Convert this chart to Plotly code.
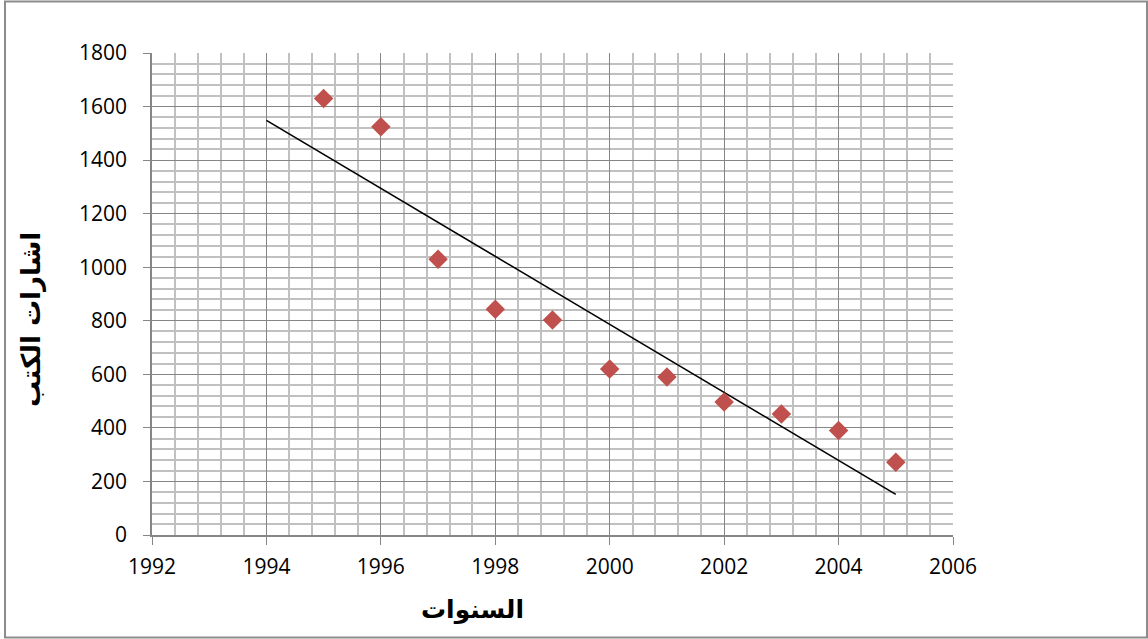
import numpy as np
import plotly.graph_objects as go

years = [1995, 1996, 1997, 1998, 1999, 2000, 2001, 2002, 2003, 2004, 2005]
values = [1630, 1525, 1030, 843, 803, 620, 590, 497, 452, 390, 272]
trend_years = [1994, 2005]

x_title = "السنوات"
y_title = "اشارات الكتب"

slope, intercept = np.polyfit(years, values, 1)
trend_vals = [slope * t + intercept for t in trend_years]

fig = go.Figure()
fig.add_trace(go.Scatter(x=trend_years, y=trend_vals, mode="lines",
                         line=dict(color="black", width=1.6), showlegend=False,
                         hoverinfo="skip"))
fig.add_trace(go.Scatter(x=years, y=values, mode="markers",
                         marker=dict(symbol="diamond", size=15, color="#C0504D",
                                     line=dict(width=0)),
                         showlegend=False))

W, H = 1148, 639
L, R, T, B = 152, 195, 53, 104
pw, ph = W - L - R, H - T - B

def px(x):
    return (x - L) / pw

def py(y):
    return (H - B - y) / ph

fig.add_shape(type="rect", xref="paper", yref="paper",
              x0=px(5), x1=px(1147), y0=py(637.5), y1=py(1.5),
              line=dict(color="#8c8c8c", width=2), layer="above")

title_font = dict(family="DejaVu Sans", size=25, color="black", weight="bold")
fig.add_annotation(text=x_title, xref="paper", yref="paper", x=px(472), y=py(610),
                   showarrow=False, font=title_font, xanchor="center", yanchor="middle")
fig.add_annotation(text=y_title, xref="paper", yref="paper", x=px(31), y=py(320),
                   showarrow=False, font=dict(family="DejaVu Sans", size=26, color="black", weight="bold"),
                   textangle=-90, xanchor="center", yanchor="middle")

tickfont = dict(family="Open Sans, Liberation Sans, sans-serif", size=21, color="black")
fig.update_layout(
    width=W, height=H,
    margin=dict(l=L, r=R, t=T, b=B),
    paper_bgcolor="white", plot_bgcolor="white",
    xaxis=dict(range=[1992, 2006], dtick=2, tick0=1992,
               showgrid=True, gridcolor="#858585", gridwidth=1.2,
               minor=dict(dtick=0.4, showgrid=True, gridcolor="#c0c0c0", gridwidth=1.5),
               showline=True, linecolor="#868686", linewidth=1.5,
               ticks="outside", ticklen=8, tickcolor="#868686",
               ticklabelstandoff=4,
               tickfont=tickfont, zeroline=False),
    yaxis=dict(range=[0, 1800], dtick=200, tick0=0,
               showgrid=True, gridcolor="#858585", gridwidth=1.2,
               minor=dict(dtick=40, showgrid=True, gridcolor="#c0c0c0", gridwidth=1.5),
               showline=True, linecolor="#868686", linewidth=1.5,
               ticks="outside", ticklen=7, tickcolor="#868686",
               ticklabelstandoff=12,
               tickfont=tickfont, zeroline=False),
)

fig.write_html("out.html", config={"displayModeBar": False},
               post_script="document.body.style.margin='0';document.body.style.padding='0';")
